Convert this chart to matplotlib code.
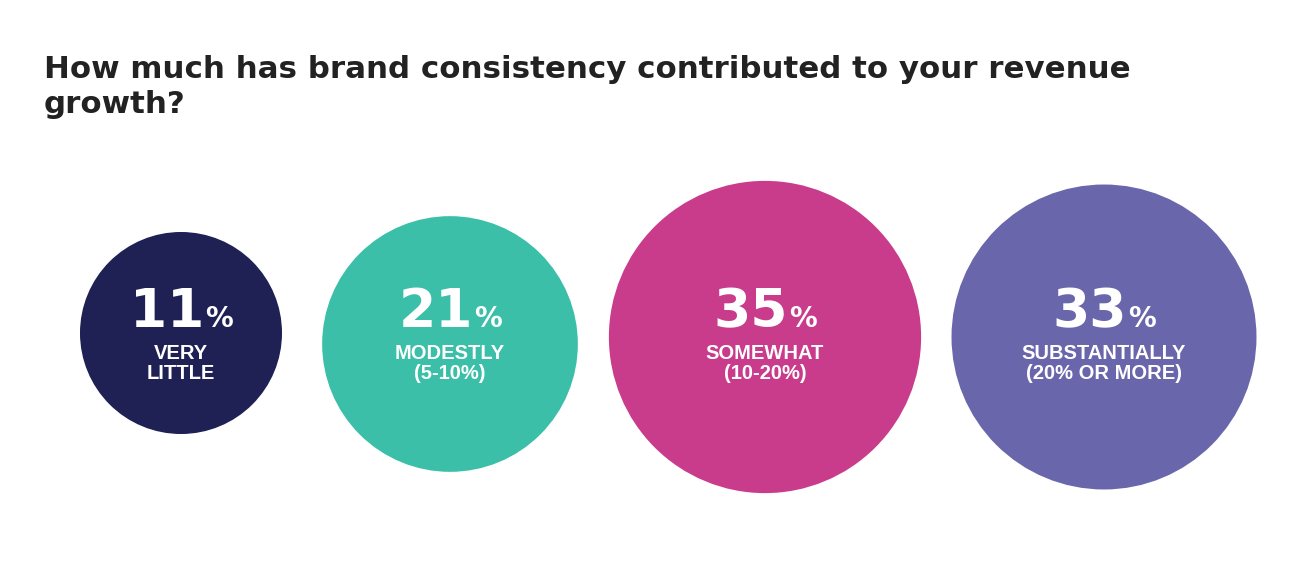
import numpy as np
import matplotlib
matplotlib.use("Agg")
import matplotlib.pyplot as plt
from matplotlib.patches import Circle

# Survey answers
values = [11, 21, 35, 33]
labels = ["VERY\nLITTLE", "MODESTLY\n(5-10%)", "SOMEWHAT\n(10-20%)", "SUBSTANTIALLY\n(20% OR MORE)"]
colors = ["#1f2154", "#3bbfa8", "#c93c8c", "#6a66ab"]
title = "How much has brand consistency contributed to your revenue\ngrowth?"

# layout (pixel space)
W, H = 1306, 564
centers_x = [181, 450, 765, 1104]
centers_y = [333, 344, 337, 337]

def radius(v):
    # bubble size scale
    return 30.7 + 21.2 * np.sqrt(v)

fig = plt.figure(figsize=(W / 100, H / 100), dpi=100)
ax = fig.add_axes([0, 0, 1, 1])
ax.set_xlim(0, W)
ax.set_ylim(H, 0)
ax.set_aspect("equal")
ax.axis("off")

fig.text(44 / W, 1 - 113 / H, title, ha="left", va="baseline", fontsize=22.2,
         fontweight="bold", family="DejaVu Sans", color="#222222",
         linespacing=1.25)

renderer = fig.canvas.get_renderer()

for v, lab, c, cx, cy in zip(values, labels, colors, centers_x, centers_y):
    ax.add_patch(Circle((cx, cy), radius(v), color=c, lw=0))

    num = ax.text(cx, 327, str(v), ha="left", va="baseline", color="white",
                  fontsize=38.5, fontweight="heavy", family="DejaVu Sans")
    pct = ax.text(cx, 327, "%", ha="left", va="baseline", color="white",
                  fontsize=20, fontweight="bold", family="DejaVu Sans")
    w1 = num.get_window_extent(renderer).width
    w2 = pct.get_window_extent(renderer).width
    total = w1 + 1 + w2
    num.set_x(cx - total / 2)
    pct.set_x(cx - total / 2 + w1 + 1)

    ax.text(cx, 379, lab, ha="center", va="baseline", color="white",
            fontsize=14.5, fontweight="bold", family="Liberation Sans",
            linespacing=1.05, multialignment="center")

fig.savefig("out.png", dpi=100, facecolor="white")
